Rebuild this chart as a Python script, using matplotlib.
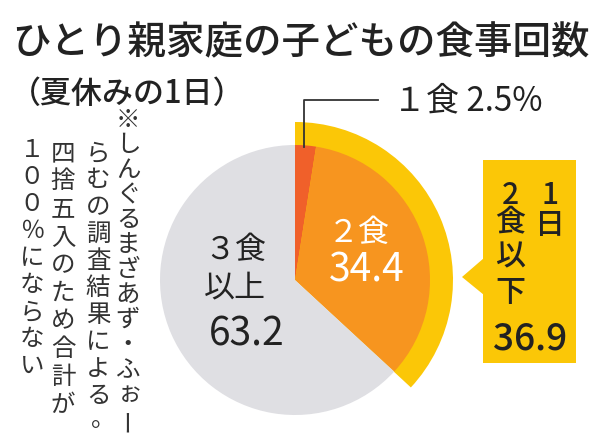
import matplotlib
matplotlib.use("Agg")
import matplotlib.pyplot as plt
from matplotlib.patches import Polygon, Rectangle

plt.rcParams['font.family'] = ['Noto Sans CJK JP', 'DejaVu Sans']

# ---- data ----
categories = ["１食", "２食", "３食以上"]
values = [2.5, 34.4, 63.2]
group_label = "1日2食以下"
group_value = 36.9
title = "ひとり親家庭の子どもの食事回数"
subtitle = "（夏休みの1日）"
note_columns = ["※しんぐるまざあず・ふぉー", "らむの調査結果による。",
                "四捨五入のため合計が", "１００％にならない"]

# ---- style ----
GRAY = "#dfdfe3"
ORANGE = "#f7951f"
RED = "#f0602a"
YELLOW = "#fbc707"
DARK = "#222222"

fig = plt.figure(figsize=(6, 4.45), dpi=100)
ax = fig.add_axes([0, 0, 1, 1])

def pt(px):
    return px * 72 / 100.0

cx, cy = 295, 280
# outer yellow ring behind the "2 meals or fewer" group
ax.pie([group_value, 100 - group_value], radius=158, center=(cx, cy),
       colors=[YELLOW, "none"], startangle=-90, counterclock=True,
       wedgeprops=dict(linewidth=0))
ax.pie(values, radius=135, center=(cx, cy), colors=[RED, ORANGE, GRAY],
       startangle=-90, counterclock=True, wedgeprops=dict(linewidth=0))

ax.set_xlim(0, 600)
ax.set_ylim(445, 0)
ax.set_aspect('auto')
ax.axis('off')

# title
ax.text(12, 43, title, fontsize=pt(38.5), color=DARK, va='center', ha='left',
        fontweight='medium')
ax.text(10, 94, subtitle, fontsize=pt(31), color=DARK, va='center', ha='left',
        fontweight='medium')

# pie labels
ax.text(204, 250, categories[2][:2], fontsize=pt(31), color=DARK,
        va='center', ha='left')
ax.text(204, 288, categories[2][2:], fontsize=pt(31), color=DARK,
        va='center', ha='left')
ax.text(247, 334, f"{values[2]:.1f}", fontsize=pt(39), color=DARK,
        va='center', ha='center')
ax.text(359, 233, categories[1], fontsize=pt(31), color="white",
        va='center', ha='center')
ax.text(367, 271, f"{values[1]:.1f}", fontsize=pt(39), color="white",
        va='center', ha='center')

# leader for 1 meal
ax.plot([304, 304, 378], [147, 100, 100], color="#333333", lw=1.3)
ax.text(393, 101, f"{categories[0]} {values[0]:.1f}%", fontsize=pt(33),
        color=DARK, va='center', ha='left')

# callout box
ax.add_patch(Rectangle((483, 160), 93, 203, facecolor=YELLOW, edgecolor='none'))
ax.add_patch(Polygon([(484, 258), (462, 277), (484, 295)], closed=True,
                     facecolor=YELLOW, edgecolor='none'))
col_r = group_label[:2]
col_l = group_label[2:]
for ch, y in zip(col_r, [196, 225]):
    ax.text(550, y, ch, fontsize=pt(30), color=DARK, va='center',
            ha='center', fontweight='medium')
for ch, y in zip(col_l, [195, 222, 257, 292]):
    ax.text(510, y, ch, fontsize=pt(30), color=DARK, va='center',
            ha='center', fontweight='medium')
ax.text(530, 338, f"{group_value:.1f}", fontsize=pt(37), color=DARK,
        va='center', ha='center', fontweight='medium')

# vertical note
col_x = [128, 98, 63, 32]
col_y0 = [120, 153, 153, 150]
col_pitch = [25.0, 27.0, 28.0, 27.0]
for txt, x, y0, p in zip(note_columns, col_x, col_y0, col_pitch):
    for i, ch in enumerate(txt):
        y = y0 + i * p
        kw = dict(fontsize=pt(24.5), color="#333333", va='center', ha='center')
        if ch == "ー":
            ax.text(x, y, ch, rotation=90, **kw)
        elif ch == "。":
            ax.text(x + 5, y - 4, ch, **kw)
        elif ch == "ぉ":
            ax.text(x + 2, y - 2, ch, **kw)
        else:
            ax.text(x, y, ch, **kw)

fig.savefig("out.png", dpi=100)
